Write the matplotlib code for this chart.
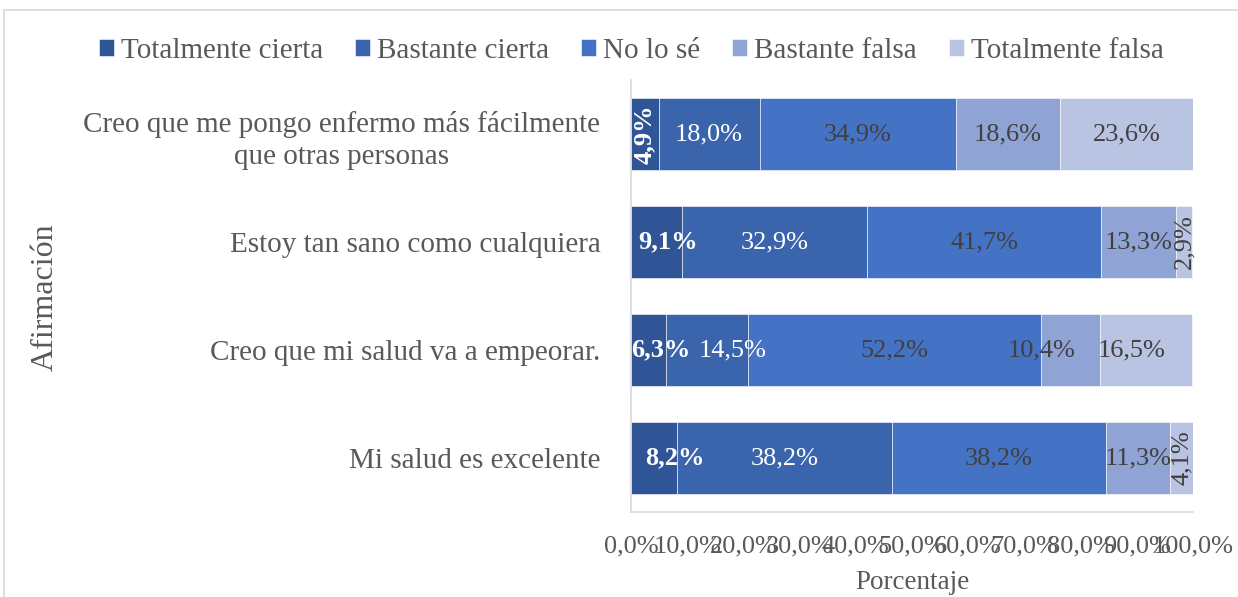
import numpy as np
import matplotlib.pyplot as plt
from matplotlib.patches import Rectangle

plt.rcParams['font.family'] = ['Liberation Serif', 'DejaVu Serif']

categories = ["Creo que me pongo enfermo más fácilmente\nque otras personas",
              "Estoy tan sano como cualquiera",
              "Creo que mi salud va a empeorar.",
              "Mi salud es excelente"]
series = ["Totalmente cierta", "Bastante cierta", "No lo sé", "Bastante falsa", "Totalmente falsa"]
tot_cierta = [4.9, 9.1, 6.3, 8.2]
bast_cierta = [18.0, 32.9, 14.5, 38.2]
no_se = [34.9, 41.7, 52.2, 38.2]
bast_falsa = [18.6, 13.3, 10.4, 11.3]
tot_falsa = [23.6, 2.9, 16.5, 4.1]
ticks = np.arange(0, 101, 10)

colors = ["#2F5597", "#3A64AC", "#4472C4", "#8FA3D5", "#B9C3E2"]
txt_colors = ["white", "white", "#404040", "#404040", "#404040"]
weights = ["bold", "normal", "normal", "normal", "normal"]
grey = "#595959"
# label nudges (row, series) -> shift in axis units, like Excel's overlap fixing
nudge = {(1, 0): 2.0, (2, 0): 2.2, (3, 0): 3.7, (2, 1): 4.6, (2, 3): -5.2, (2, 4): -2.5}

fig = plt.figure(figsize=(12.38, 5.97), dpi=100)
ax = fig.add_axes([631/1238, 1-512/597, 562/1238, 432/597])

data = [tot_cierta, bast_cierta, no_se, bast_falsa, tot_falsa]
y = np.arange(len(categories))
left = np.zeros(len(categories))
for j, (vals, name, c, tc, w) in enumerate(zip(data, series, colors, txt_colors, weights)):
    vals = np.array(vals)
    ax.barh(y, vals, left=left, height=0.667, color=c, edgecolor="white",
            linewidth=0.4, label=name)
    for i, (yi, v, l) in enumerate(zip(y, vals, left)):
        lab = f"{v:.1f}%".replace(".", ",")
        rot = 90 if v < 5 else 0
        ax.text(l + v/2 + nudge.get((i, j), 0), yi, lab, ha="center", va="center",
                color=tc, fontsize=19, fontweight=w, rotation=rot, zorder=5)
    left += vals

ax.set_ylim(len(categories) - 0.5, -0.5)
ax.set_xlim(0, 100)
ax.set_yticks(y)
ax.set_yticklabels(categories, fontsize=21, color=grey, multialignment="center",
                   linespacing=1.35)
ax.set_xticks(ticks)
ax.set_xticklabels([f"{t:.1f}%".replace(".", ",") for t in ticks], fontsize=19, color=grey)
ax.tick_params(axis="y", length=0, pad=22)
ax.tick_params(axis="x", length=0, pad=17)
for s in ["top", "right"]:
    ax.spines[s].set_visible(False)
for s in ["left", "bottom"]:
    ax.spines[s].set_color("#D9D9D9")
    ax.spines[s].set_linewidth(1.2)
ax.set_xlabel("Porcentaje", fontsize=19.5, color=grey, labelpad=9)
fig.text(45/1238, 1-297/597, "Afirmación", rotation=90, ha="center", va="center",
         fontsize=23, color=grey)

fig.legend(loc="center", bbox_to_anchor=(0.51, 1-51/597), ncol=5, frameon=False,
           prop={"family": "Liberation Serif", "size": 21},
           handlelength=0.5, handleheight=0.5, handletextpad=0.25,
           columnspacing=1.1, labelcolor=grey)

fig.add_artist(Rectangle((4/1238, -0.1), 1.0, 1.1-10/597, transform=fig.transFigure,
                         fill=False, edgecolor="#D9D9D9", linewidth=1.2))

fig.savefig("out.png", dpi=100)
